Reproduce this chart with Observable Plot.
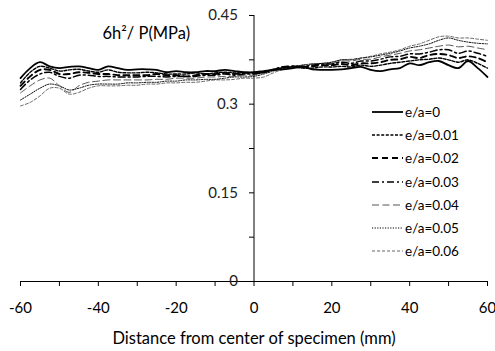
<!DOCTYPE html>
<html>
<head>
<meta charset="utf-8">
<script src="https://cdn.jsdelivr.net/npm/d3@7"></script>
<script src="https://cdn.jsdelivr.net/npm/@observablehq/plot@0.6"></script>
<style>
  html, body { margin: 0; padding: 0; background: #fff; }
  #wrap { position: relative; width: 495px; height: 351px; font-family: Lato, "Open Sans", sans-serif; }
  #legend { position: absolute; left: 372px; top: 100px; font-size: 13.5px; color: #000; }
  .row { display: flex; align-items: center; height: 23.3px; }
  .row svg { display: block; margin-right: 2px; }
</style>
</head>
<body>
<div id="wrap"><div id="legend"></div></div>
<script>
// x positions (mm from center of specimen)
const distance = [-60, -57.5, -55, -52.5, -50, -47.5, -45, -42.5, -40, -37.5, -35, -32.5, -30, -27.5, -25, -22.5, -20, -17.5, -15, -12.5, -10, -7.5, -5, -2.5, 0, 2.5, 5, 7.5, 10, 12.5, 15, 17.5, 20, 22.5, 25, 27.5, 30, 32.5, 35, 37.5, 40, 42.5, 45, 47.5, 50, 52.5, 55, 57.5, 60];

// 6h^2/P (MPa) for each eccentricity e/a
const ea000 = [0.344, 0.361, 0.371, 0.364, 0.361, 0.363, 0.364, 0.361, 0.358, 0.364, 0.361, 0.358, 0.359, 0.359, 0.358, 0.354, 0.356, 0.354, 0.354, 0.356, 0.356, 0.358, 0.356, 0.354, 0.354, 0.356, 0.358, 0.359, 0.361, 0.363, 0.359, 0.358, 0.358, 0.359, 0.361, 0.363, 0.358, 0.356, 0.359, 0.361, 0.369, 0.366, 0.371, 0.373, 0.366, 0.361, 0.373, 0.361, 0.346];
const ea001 = [0.336, 0.354, 0.364, 0.361, 0.356, 0.358, 0.359, 0.356, 0.354, 0.358, 0.354, 0.353, 0.353, 0.354, 0.353, 0.351, 0.351, 0.351, 0.353, 0.351, 0.353, 0.354, 0.353, 0.353, 0.353, 0.354, 0.358, 0.361, 0.363, 0.361, 0.361, 0.363, 0.363, 0.364, 0.363, 0.366, 0.364, 0.366, 0.369, 0.371, 0.373, 0.375, 0.376, 0.378, 0.375, 0.371, 0.375, 0.369, 0.361];
const ea002 = [0.331, 0.347, 0.358, 0.358, 0.351, 0.351, 0.354, 0.353, 0.351, 0.351, 0.349, 0.349, 0.349, 0.349, 0.351, 0.349, 0.349, 0.347, 0.349, 0.351, 0.351, 0.353, 0.351, 0.353, 0.353, 0.354, 0.358, 0.363, 0.364, 0.363, 0.364, 0.366, 0.366, 0.368, 0.366, 0.369, 0.369, 0.371, 0.375, 0.376, 0.380, 0.378, 0.383, 0.385, 0.383, 0.378, 0.381, 0.378, 0.371];
const ea003 = [0.325, 0.341, 0.351, 0.354, 0.347, 0.344, 0.349, 0.349, 0.347, 0.347, 0.346, 0.346, 0.346, 0.347, 0.347, 0.346, 0.347, 0.347, 0.347, 0.349, 0.349, 0.351, 0.349, 0.351, 0.351, 0.354, 0.359, 0.363, 0.364, 0.364, 0.366, 0.368, 0.368, 0.371, 0.369, 0.373, 0.373, 0.376, 0.380, 0.381, 0.385, 0.385, 0.388, 0.392, 0.392, 0.386, 0.390, 0.386, 0.381];
const ea004 = [0.319, 0.331, 0.341, 0.344, 0.331, 0.320, 0.331, 0.337, 0.339, 0.341, 0.341, 0.341, 0.341, 0.341, 0.342, 0.342, 0.344, 0.344, 0.344, 0.346, 0.346, 0.347, 0.347, 0.349, 0.349, 0.353, 0.358, 0.363, 0.364, 0.366, 0.368, 0.369, 0.369, 0.373, 0.373, 0.376, 0.376, 0.380, 0.383, 0.386, 0.390, 0.392, 0.395, 0.398, 0.400, 0.397, 0.398, 0.395, 0.392];
const ea005 = [0.307, 0.317, 0.327, 0.334, 0.331, 0.324, 0.327, 0.332, 0.334, 0.334, 0.334, 0.336, 0.336, 0.337, 0.337, 0.339, 0.339, 0.341, 0.341, 0.342, 0.342, 0.344, 0.346, 0.346, 0.347, 0.351, 0.356, 0.361, 0.363, 0.366, 0.368, 0.369, 0.371, 0.375, 0.375, 0.378, 0.380, 0.383, 0.386, 0.390, 0.395, 0.398, 0.402, 0.408, 0.412, 0.408, 0.405, 0.403, 0.402];
const ea006 = [0.297, 0.303, 0.314, 0.327, 0.327, 0.317, 0.320, 0.327, 0.331, 0.331, 0.331, 0.332, 0.332, 0.334, 0.334, 0.336, 0.336, 0.337, 0.337, 0.339, 0.341, 0.341, 0.342, 0.344, 0.344, 0.346, 0.353, 0.359, 0.361, 0.366, 0.368, 0.369, 0.371, 0.375, 0.376, 0.378, 0.381, 0.385, 0.388, 0.392, 0.398, 0.402, 0.408, 0.414, 0.415, 0.412, 0.412, 0.410, 0.408];

const seriesNames = ["e/a=0", "e/a=0.01", "e/a=0.02", "e/a=0.03", "e/a=0.04", "e/a=0.05", "e/a=0.06"];
const seriesValues = [ea000, ea001, ea002, ea003, ea004, ea005, ea006];

const xTicks = [-60, -50, -40, -30, -20, -10, 0, 10, 20, 30, 40, 50, 60];
const yTicks = [0, 0.075, 0.15, 0.225, 0.3, 0.375, 0.45];
const yLabelTicks = [0, 0.15, 0.3, 0.45];
const yLabelText = ["0", "0.15", "0.3", "0.45"];

const xTitle = "Distance from center of specimen (mm)";
const yTitle = "6h\u00B2/ P(MPa)";

// line styles per series
const styles = [
  {stroke: "#000", strokeWidth: 1.8, dash: null},
  {stroke: "#000", strokeWidth: 1.4, dash: "3,1.6"},
  {stroke: "#000", strokeWidth: 1.9, dash: "6,4"},
  {stroke: "#000", strokeWidth: 1.5, dash: "7,3,2,3"},
  {stroke: "#555", strokeWidth: 1.0, dash: "7,3.5"},
  {stroke: "#000", strokeWidth: 1.0, dash: "1.2,1.4"},
  {stroke: "#666", strokeWidth: 1.0, dash: "3,2"}
];

const table = [];
seriesNames.forEach((name, i) => {
  distance.forEach((x, j) => table.push({series: name, x, y: seriesValues[i][j], idx: i}));
});

const tickSymbol = {draw(ctx) { ctx.moveTo(-5, 0); ctx.lineTo(0, 0); }};

const lineMarks = [];
for (let i = seriesNames.length - 1; i >= 0; i--) {
  const s = styles[i];
  lineMarks.push(Plot.line(table.filter(d => d.idx === i), {
    x: "x", y: "y", stroke: s.stroke, strokeWidth: s.strokeWidth,
    strokeDasharray: s.dash || undefined, curve: "catmull-rom"
  }));
}

const chart = Plot.plot({
  width: 495,
  height: 351,
  marginLeft: 20,
  marginRight: 8,
  marginTop: 15,
  marginBottom: 70,
  x: {domain: [-60, 60]},
  y: {domain: [0, 0.45]},
  style: {fontFamily: "Lato, 'Open Sans', sans-serif", fontSize: "15px", color: "#000", background: "#fff"},
  marks: [
    Plot.ruleY([0], {stroke: "#000", strokeWidth: 1}),
    Plot.ruleX([0], {stroke: "#000", strokeWidth: 1}),
    Plot.axisX({ticks: xTicks, tickSize: 5, tickPadding: 16, tickFormat: d => (d % 20 === 0 ? String(d) : ""), label: null, fontSize: 15, stroke: "#000"}),
    Plot.axisY({ticks: [], label: null, tickSize: 0}),
    Plot.dot(yTicks, {x: () => 0, y: d => d, symbol: tickSymbol, stroke: "#000", fill: "none", strokeWidth: 1}),
    Plot.text(yLabelTicks, {x: () => 0, y: d => d, text: (d, i) => yLabelText[i], dx: -16, textAnchor: "end", fontSize: 15, fill: "#222"}),
    ...lineMarks,
    Plot.text([xTitle], {frameAnchor: "bottom", dy: 57, lineAnchor: "middle", fontSize: 16.5, fill: "#000"}),
    Plot.text([yTitle], {frameAnchor: "top-left", dx: 82, dy: 18, lineAnchor: "middle", textAnchor: "start", fontSize: 16.5, fill: "#000"})
  ]
});

const wrap = document.getElementById("wrap");
wrap.insertBefore(chart, wrap.firstChild);

const legend = document.getElementById("legend");
seriesNames.forEach((name, i) => {
  const s = styles[i];
  const row = document.createElement("div");
  row.className = "row";
  row.innerHTML = `<svg width="31" height="10"><line x1="0" y1="5" x2="31" y2="5" stroke="${s.stroke}" stroke-width="${s.strokeWidth}" ${s.dash ? `stroke-dasharray="${s.dash}"` : ""}/></svg><span>${name}</span>`;
  legend.appendChild(row);
});
</script>
</body>
</html>
